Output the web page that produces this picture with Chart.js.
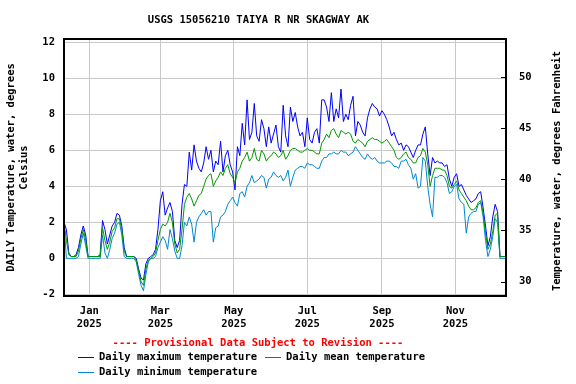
<!DOCTYPE html>
<html>
<head>
<meta charset="utf-8">
<script src="https://cdn.jsdelivr.net/npm/chart.js@4/dist/chart.umd.min.js"></script>
<style>
  html, body { margin: 0; padding: 0; background: #fff; }
</style>
</head>
<body>
<canvas id="myChart" width="576" height="384"></canvas>
<script>
const chartTitle = 'USGS 15056210 TAIYA R NR SKAGWAY AK'
const leftTitle = ['DAILY Temperature, water, degrees', 'Celsius']
const rightTitle = 'Temperature, water, degrees Fahrenheit'
const provisional = '---- Provisional Data Subject to Revision ----'

// days counted from Jan 1 2025, one value every 2 days
const firstDay = -21
const stepDays = 2

const dailyMax = [
  2.0,1.6,0.3,0.1,0.1,0.2,0.6,1.3,1.8,1.3, 0.1,0.1,0.1,0.1,0.1,0.2,2.1,1.6,0.8,1.3,
  1.8,2.0,2.5,2.4,1.8,0.6,0.1,0.1,0.1,0.1, 0.0,-0.6,-1.1,-1.2,-0.3,0.0,0.1,0.2,0.5,1.6,
  3.2,3.7,2.4,2.8,3.1,2.6,1.0,0.6,
  1.0,3.0,4.1,4.0,5.9,4.9,6.3,5.4,5.0,4.8, 5.3,6.2,5.5,6.0,4.8,5.4,5.2,6.5,4.8,5.7,
  6.0,5.2,4.8,3.8,6.2,5.7,7.5,6.3,8.8,6.6, 7.0,8.6,6.8,6.5,7.7,7.2,6.2,7.3,6.4,6.9,
  7.4,6.2,5.9,8.5,6.8,6.2,
  8.4,7.6,8.1,7.3,6.8,7.0,6.2,7.8,6.6,6.4, 7.0,7.2,6.4,8.8,8.8,8.4,7.6,9.2,7.6,8.3,
  7.8,9.4,7.6,8.0,7.7,8.5,9.0,6.8,7.6,7.4, 7.0,6.8,7.8,8.3,8.6,8.4,8.3,7.9,8.2,8.0,
  7.7,7.3,6.8,7.0,6.6,6.3,
  6.4,6.0,6.3,6.2,5.9,5.6,6.0,6.3,6.3,6.9, 7.3,5.8,4.6,5.6,5.3,5.4,5.3,5.3,5.1,5.2,
  4.4,4.0,4.5,4.7,4.0,4.1,3.8,3.5,3.3,3.1, 3.2,3.3,3.6,3.7,2.8,1.8,0.7,1.2,2.3,3.0,
  2.6,0.1,0.1,0.1
]
const dailyMean = [
  2.0,1.0,0.2,0.1,0.1,0.1,0.4,1.1,1.6,1.0, 0.1,0.1,0.1,0.1,0.1,0.1,1.7,1.0,0.5,0.9,
  1.5,1.7,2.2,2.2,1.6,0.4,0.1,0.1,0.1,0.1, -0.1,-0.7,-1.3,-1.5,-0.6,-0.1,0.0,0.1,0.3,1.0,
  1.6,1.9,1.8,2.0,2.5,2.0,0.8,0.3,
  0.5,1.6,3.0,3.4,3.6,3.3,2.9,3.2,3.5,3.6, 4.0,4.4,4.6,4.7,4.0,4.3,4.5,4.8,4.6,5.0,
  5.2,4.7,4.5,4.2,4.8,5.0,5.4,5.6,5.9,5.4, 5.6,6.1,5.5,5.4,6.0,5.8,5.4,5.6,5.7,5.9,
  5.8,5.6,5.7,6.0,5.5,5.7,
  6.0,6.1,6.1,6.0,5.9,5.9,6.0,6.1,6.0,6.0, 5.9,5.8,5.8,6.4,6.6,6.9,6.7,7.1,7.2,6.9,
  6.7,7.1,7.0,6.9,7.0,6.9,6.5,6.4,6.6,6.5, 6.4,6.2,6.5,6.6,6.7,6.6,6.6,6.5,6.4,6.5,
  6.6,6.4,6.2,6.0,5.6,5.5,
  5.6,5.8,5.9,5.6,5.5,5.3,5.3,5.6,5.7,6.1, 5.9,5.2,4.0,4.6,5.0,5.0,5.0,4.9,4.9,4.6,
  4.0,3.9,4.1,4.3,3.8,3.6,3.4,3.2,2.9,2.7, 2.7,2.8,3.1,3.2,2.5,1.4,0.5,0.8,1.5,2.4,
  2.5,0.1,0.1,0.1
]
const dailyMin = [
  2.0,0.0,0.0,0.0,0.0,0.0,0.1,0.8,1.4,0.7, 0.0,0.0,0.0,0.0,0.0,0.0,1.3,0.3,0.0,0.5,
  1.1,1.4,1.9,2.0,1.3,0.1,0.0,0.0,0.0,0.0, -0.2,-0.9,-1.5,-1.8,-0.9,-0.2,0.0,0.0,0.1,0.6,
  0.9,1.2,1.0,0.5,1.6,1.1,0.4,0.0,
  0.0,0.7,2.0,1.8,2.3,1.9,0.9,2.0,2.3,2.5, 2.7,2.4,2.6,2.6,0.9,1.7,1.8,2.3,2.4,2.6,
  3.0,3.2,3.4,3.1,2.9,3.6,3.7,3.4,4.0,4.2, 4.6,4.2,4.3,4.4,4.6,4.5,3.9,4.4,4.5,4.8,
  4.6,4.5,4.6,4.3,4.5,4.9,
  4.0,4.5,4.9,5.0,5.1,5.1,5.0,5.3,5.2,5.2, 5.1,5.0,5.0,5.4,5.6,5.6,5.8,5.8,5.9,5.8,
  5.8,6.0,5.9,5.9,5.7,5.8,5.9,6.2,6.0,5.8, 5.6,5.5,5.8,5.6,5.5,5.6,5.4,5.3,5.3,5.3,
  5.4,5.4,5.3,5.1,5.1,5.0,
  5.4,5.4,5.5,5.2,5.0,4.4,4.7,3.9,4.0,5.6, 5.4,4.0,3.0,2.3,4.5,4.5,4.6,4.6,4.5,4.2,
  3.6,3.7,4.0,4.1,3.3,3.1,3.0,1.4,2.3,2.5, 2.6,2.6,3.0,3.1,2.3,1.0,0.1,0.5,1.2,2.2,
  2.0,0.0,0.0,0.0
]

const monthTicks = [0, 59, 120, 181, 243, 304]
const monthLabels = [['Jan','2025'], ['Mar','2025'], ['May','2025'], ['Jul','2025'], ['Sep','2025'], ['Nov','2025']]
const celsiusTicks = [-2, 0, 2, 4, 6, 8, 10, 12]
const fahrenheitTicks = [30, 35, 40, 45, 50]

const seriesNames = ['Daily maximum temperature', 'Daily mean temperature', 'Daily minimum temperature']
const seriesColors = ['#0000ff', '#009900', '#0088d0']

const FAMILY = '"DejaVu Sans Mono", "Liberation Mono", monospace'
const FONT = 'bold 10.5px ' + FAMILY
const tickFont = {family: FAMILY, size: 10.5, weight: 'bold', lineHeight: 1.24}

function toPoints(values) {
  return values.map((v, i) => ({x: firstDay + i * stepDays, y: v}))
}

const extras = {
  id: 'extras',
  beforeDraw(chart) {
    const ctx = chart.ctx
    ctx.save()
    ctx.fillStyle = '#fff'
    ctx.fillRect(0, 0, chart.width, chart.height)
    ctx.restore()
  },
  afterDraw(chart) {
    const ctx = chart.ctx
    const a = chart.chartArea
    ctx.save()
    // frame
    ctx.strokeStyle = '#000'
    ctx.lineWidth = 2
    ctx.strokeRect(a.left, a.top, a.right - a.left, a.bottom - a.top)
    // short inner ticks for the Fahrenheit axis
    ctx.lineWidth = 1
    const yF = chart.scales.yF
    fahrenheitTicks.forEach(v => {
      const py = Math.round(yF.getPixelForValue(v)) + 0.5
      ctx.beginPath()
      ctx.moveTo(a.right - 5, py)
      ctx.lineTo(a.right, py)
      ctx.stroke()
    })
    ctx.font = FONT
    ctx.fillStyle = '#000'
    ctx.textBaseline = 'middle'
    ctx.textAlign = 'center'
    ctx.fillText(chartTitle, 258.5, 20)
    ctx.fillStyle = '#ff0000'
    ctx.fillText(provisional, 258, 343)
    // legend
    const rows = [[78, 357], [265, 357], [78, 372]]
    ctx.textAlign = 'left'
    rows.forEach((r, i) => {
      ctx.fillStyle = seriesColors[i]
      ctx.fillRect(r[0], r[1], 16, 1)
      ctx.fillStyle = '#000'
      ctx.fillText(seriesNames[i], r[0] + 21, r[1])
    })
    // right axis title, reading upward
    ctx.translate(557, 171)
    ctx.rotate(-Math.PI / 2)
    ctx.textAlign = 'center'
    ctx.fillText(rightTitle, 0, 0)
    ctx.restore()
  }
}

const ctx = document.getElementById('myChart').getContext('2d')
window.bar = new Chart(ctx, {
  type: 'line',
  data: {
    datasets: [
      {label: seriesNames[0], data: toPoints(dailyMax), borderColor: seriesColors[0], order: 3},
      {label: seriesNames[1], data: toPoints(dailyMean), borderColor: seriesColors[1], order: 1},
      {label: seriesNames[2], data: toPoints(dailyMin), borderColor: seriesColors[2], order: 2}
    ]
  },
  options: {
    responsive: false,
    animation: false,
    parsing: false,
    layout: {padding: {top: 39, left: 0, right: 0, bottom: 0}},
    elements: {
      line: {borderWidth: 1, tension: 0, fill: false},
      point: {radius: 0}
    },
    plugins: {legend: {display: false}, tooltip: {enabled: false}, title: {display: false}},
    scales: {
      x: {
        type: 'linear',
        min: -21,
        max: 346,
        afterBuildTicks: s => { s.ticks = monthTicks.map(v => ({value: v})) },
        afterFit: s => { s.height = 88 },
        grid: {color: '#c8c8c8', drawTicks: false},
        border: {display: false},
        ticks: {
          autoSkip: false, maxRotation: 0, padding: 8.5, color: '#000', font: tickFont,
          callback: (v, i) => monthLabels[i]
        }
      },
      y: {
        type: 'linear',
        position: 'left',
        min: -2.09,
        max: 12.18,
        afterBuildTicks: s => { s.ticks = celsiusTicks.map(v => ({value: v})) },
        afterFit: s => { s.width = 64 },
        grid: {color: '#c8c8c8', drawTicks: false},
        border: {display: false},
        ticks: {padding: 9, color: '#000', font: {family: FAMILY, size: 10.5, weight: 'bold'}},
        title: {
          display: true,
          text: leftTitle,
          color: '#000',
          font: {family: FAMILY, size: 10.5, weight: 'bold', lineHeight: 1.2},
          padding: {top: 5, bottom: 0}
        }
      },
      yF: {
        type: 'linear',
        position: 'right',
        min: 28.6,
        max: 53.7,
        afterBuildTicks: s => { s.ticks = fahrenheitTicks.map(v => ({value: v})) },
        afterFit: s => { s.width = 70 },
        grid: {display: false, drawTicks: false},
        border: {display: false},
        ticks: {padding: 13, color: '#000', font: {family: FAMILY, size: 10.5, weight: 'bold'}}
      }
    }
  },
  plugins: [extras]
})
</script>
</body>
</html>
